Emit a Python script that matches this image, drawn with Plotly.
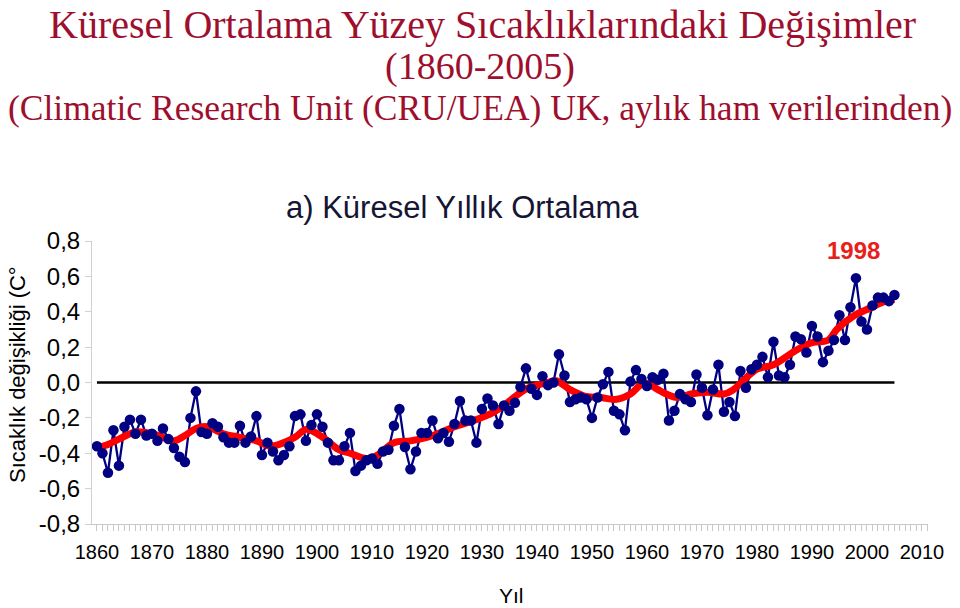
import plotly.graph_objects as go

years = list(range(1860, 2006))
anomaly = [
    -0.36, -0.40, -0.51, -0.27, -0.47, -0.25, -0.21, -0.29, -0.21, -0.30,  # 1860s
    -0.29, -0.33, -0.26, -0.32, -0.37, -0.42, -0.45, -0.20, -0.05, -0.28,  # 1870s
    -0.29, -0.23, -0.25, -0.31, -0.34, -0.34, -0.245, -0.34, -0.305, -0.19,  # 1880s
    -0.41, -0.34, -0.39, -0.44, -0.41, -0.36, -0.19, -0.18, -0.33, -0.24,  # 1890s
    -0.18, -0.25, -0.34, -0.44, -0.44, -0.36, -0.285, -0.50, -0.47, -0.44,  # 1900s
    -0.43, -0.46, -0.39, -0.38, -0.245, -0.15, -0.365, -0.49, -0.39, -0.285,  # 1910s
    -0.285, -0.215, -0.315, -0.285, -0.335, -0.235, -0.105, -0.215, -0.215, -0.34,  # 1920s
    -0.15, -0.09, -0.13, -0.235, -0.13, -0.16, -0.115, -0.025, 0.08, -0.035,  # 1930s
    -0.07, 0.035, -0.015, 0.0, 0.16, 0.04, -0.11, -0.095, -0.085, -0.095,  # 1940s
    -0.20, -0.085, -0.01, 0.06, -0.16, -0.18, -0.27, 0.005, 0.07, 0.02,  # 1950s
    -0.02, 0.03, 0.015, 0.05, -0.215, -0.16, -0.065, -0.095, -0.11, 0.045,  # 1960s
    -0.03, -0.185, -0.04, 0.10, -0.165, -0.11, -0.19, 0.065, -0.03, 0.075,  # 1970s
    0.10, 0.145, 0.03, 0.23, 0.04, 0.03, 0.10, 0.26, 0.245, 0.17,  # 1980s
    0.32, 0.26, 0.115, 0.18, 0.24, 0.38, 0.24, 0.425, 0.59, 0.345,  # 1990s
    0.30, 0.435, 0.48, 0.48, 0.46, 0.495,  # 2000s
]
zero_line = [0.0 for _ in years]

smooth_years = [1860, 1862, 1864, 1867, 1870, 1872, 1874, 1876, 1878, 1880, 1883, 1886,
                1889, 1891.5, 1894, 1896, 1898, 1899.5, 1901.5, 1904, 1906, 1909, 1911,
                1914, 1917, 1920, 1922, 1925, 1928.5, 1932, 1934, 1936, 1938.5, 1942,
                1943.5, 1946, 1948.5, 1951.5, 1954.5, 1957, 1959, 1960, 1962, 1963.5,
                1965.5, 1968, 1971, 1974, 1975.5, 1977.5, 1980, 1983, 1986, 1987, 1990,
                1993, 1994.5, 1997.5, 2000.5, 2003, 2005]
smooth_values = [-0.37, -0.35, -0.32, -0.28, -0.29, -0.31, -0.33, -0.30, -0.26, -0.25, -0.29, -0.31,
                 -0.33, -0.36, -0.34, -0.31, -0.265, -0.28, -0.32, -0.38, -0.40, -0.43, -0.41,
                 -0.34, -0.33, -0.31, -0.29, -0.25, -0.215, -0.17, -0.13, -0.08, -0.03, 0.0,
                 0.01, -0.04, -0.075, -0.085, -0.095, -0.065, -0.01, -0.005, -0.04, -0.065,
                 -0.085, -0.065, -0.055, -0.065, -0.045, 0.01, 0.075, 0.10, 0.16, 0.18, 0.225,
                 0.24, 0.30, 0.375, 0.42, 0.455, 0.47]

y_ticks = [0.8, 0.6, 0.4, 0.2, 0.0, -0.2, -0.4, -0.6, -0.8]
y_tick_labels = ["0,8", "0,6", "0,4", "0,2", "0,0", "-0,2", "-0,4", "-0,6", "-0,8"]
x_ticks = list(range(1860, 2011, 10))
x_tick_labels = [str(v) for v in x_ticks]

title_lines = [
    "Küresel Ortalama Yüzey Sıcaklıklarındaki Değişimler",
    "(1860-2005)",
    "(Climatic Research Unit (CRU/UEA) UK, aylık ham verilerinden)",
]
subtitle = "a) Küresel Yıllık Ortalama"
peak_label = "1998"
y_title = "Sıcaklık değişikliği (C°"
x_title = "Yıl"

NAVY = "#000080"
RED = "#FF0000"
TITLE_COLOR = "#9E0F2E"

fig = go.Figure()
fig.add_trace(go.Scatter(x=years, y=zero_line, mode="lines",
                         line=dict(color="black", width=2.5), hoverinfo="skip"))
fig.add_trace(go.Scatter(x=years, y=anomaly, mode="lines",
                         line=dict(color=NAVY, width=2.3)))
fig.add_trace(go.Scatter(x=smooth_years, y=smooth_values, mode="lines",
                         line=dict(color=RED, width=7, shape="spline", smoothing=1.0)))
fig.add_trace(go.Scatter(x=years, y=anomaly, mode="markers",
                         marker=dict(color=NAVY, size=10.5, line=dict(width=0))))

sans = "Liberation Sans, Arial, sans-serif"

fig.update_layout(
    width=960, height=608,
    margin=dict(l=92, r=32, t=241, b=84),
    paper_bgcolor="white", plot_bgcolor="white",
    showlegend=False,
    xaxis=dict(range=[1859.1, 2011.1], tickmode="array", tickvals=x_ticks, ticktext=x_tick_labels,
               showgrid=False, zeroline=False, showline=True, linecolor="#c8c8c8", linewidth=1,
               ticks="outside", ticklen=6, tickcolor="#c8c8c8", ticklabelstandoff=4,
               tickfont=dict(family=sans, size=20, color="black"),
               minor=dict(dtick=1, tick0=1860, ticks="outside", ticklen=6, tickcolor="#c8c8c8"),
               fixedrange=True),
    yaxis=dict(range=[-0.8, 0.8], tickmode="array", tickvals=y_ticks, ticktext=y_tick_labels,
               showgrid=False, zeroline=False, showline=True, linecolor="#d0d0d0", linewidth=1,
               ticks="outside", ticklen=6, tickcolor="#d0d0d0",
               tickfont=dict(family=sans, size=24, color="black"),
               fixedrange=True),
)

serif = "Liberation Serif, Times New Roman, serif"
title_specs = [(24, 40, 482), (66, 38, 480), (108, 35.5, 480)]
for txt, (ypx, fs, xc) in zip(title_lines, title_specs):
    fig.add_annotation(text=txt, xref="paper", yref="paper", x=(xc - 92) / 836,
                       y=(524 - ypx) / 283, xanchor="center", yanchor="middle",
                       showarrow=False, font=dict(family=serif, size=fs, color=TITLE_COLOR))

fig.add_annotation(text=subtitle, xref="paper", yref="paper", x=(462 - 92) / 836,
                   y=(524 - 207) / 283, xanchor="center", yanchor="middle", showarrow=False,
                   font=dict(family=sans, size=31, color="#151535"))
fig.add_annotation(text="<b>" + peak_label + "</b>", xref="paper", yref="paper", x=(853 - 92) / 836,
                   y=(524 - 250) / 283, xanchor="center", yanchor="middle", showarrow=False,
                   font=dict(family=sans, size=24, color="#E8201A"))
fig.add_annotation(text=y_title, xref="paper", yref="paper", x=(17 - 92) / 836,
                   y=(524 - 375) / 283, xanchor="center", yanchor="middle", showarrow=False,
                   textangle=-90,
                   font=dict(family=sans, size=22, color="black"))
fig.add_annotation(text=x_title, xref="paper", yref="paper", x=(511 - 92) / 836,
                   y=(524 - 595) / 283, xanchor="center", yanchor="middle", showarrow=False,
                   font=dict(family=sans, size=21, color="black"))

fig.write_html("out.html")
